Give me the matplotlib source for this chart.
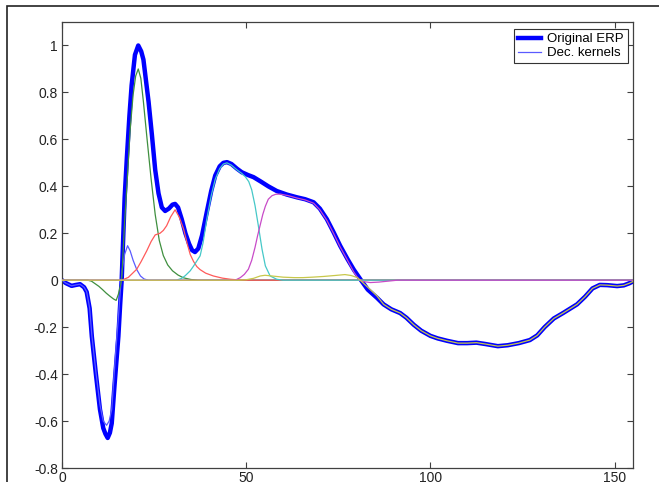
import matplotlib
matplotlib.use("Agg")
import matplotlib.pyplot as plt
from matplotlib.patches import Rectangle

plt.rcParams['font.family'] = ['Liberation Sans', 'DejaVu Sans']
plt.rcParams['axes.unicode_minus'] = False

# Original ERP (thick line)
erp_x = [0, 1, 2.6, 3.8, 4.9, 6, 6.7, 7.5, 8.1, 9.2, 10.3, 11.2, 11.8, 12.4, 13, 13.5,
         14.2, 14.7, 15.3, 15.8, 16.2, 17, 17.6, 18.3, 18.9, 19.8, 20.7, 21.5, 22.1,
         22.8, 23.5, 24.4, 25.3, 26.2, 27.1, 28, 29, 30, 30.7, 31.5, 32.5, 33.5, 34.5,
         35.3, 36.1, 37, 38, 39.3, 40.5, 41.6, 42.8, 43.8, 44.8, 46, 47.5, 48.8, 50.5,
         52, 54, 56, 58.3, 61, 63.8, 66, 68.3, 70, 71.9, 73.7, 75.5, 77.5, 79.2, 81,
         83, 85.5, 87.3, 89.4, 91.8, 93.5, 95.5, 97.5, 100, 102, 104.5, 107.5, 110,
         112.5, 115, 118.3, 121, 124, 127, 129, 131, 133.5, 136, 139.8, 142, 144,
         146, 148, 150.7, 152.5, 154, 155.3]
erp_y = [0, -0.012, -0.024, -0.02, -0.017, -0.03, -0.05, -0.12, -0.24, -0.40, -0.55,
         -0.63, -0.655, -0.672, -0.65, -0.61, -0.46, -0.36, -0.24, -0.1, 0, 0.35, 0.52,
         0.70, 0.83, 0.96, 1.0, 0.975, 0.94, 0.85, 0.76, 0.62, 0.47, 0.37, 0.31, 0.295,
         0.305, 0.322, 0.325, 0.31, 0.26, 0.2, 0.155, 0.128, 0.12, 0.135, 0.19, 0.29,
         0.38, 0.446, 0.485, 0.5, 0.503, 0.495, 0.475, 0.46, 0.448, 0.439, 0.42, 0.40,
         0.38, 0.365, 0.353, 0.345, 0.332, 0.305, 0.26, 0.205, 0.147, 0.09, 0.045,
         0.004, -0.04, -0.075, -0.103, -0.124, -0.14, -0.16, -0.19, -0.215, -0.237,
         -0.248, -0.258, -0.268, -0.268, -0.266, -0.272, -0.281, -0.277, -0.268,
         -0.255, -0.235, -0.2, -0.163, -0.14, -0.103, -0.07, -0.035, -0.02, -0.021,
         -0.025, -0.022, -0.013, -0.003]

# decomposition kernels
blue_x = [0, 1, 2.6, 3.8, 4.9, 6, 6.7, 7.5, 8.1, 9.2, 10.3, 11.2, 12.1, 12.8, 13.5, 14.2,
          14.7, 15.3, 15.8, 16.3, 17, 17.8, 18.5, 19.3, 20.3, 21.3, 22.3, 23.5, 155]
blue_y = [0, -0.012, -0.024, -0.02, -0.017, -0.03, -0.049, -0.118, -0.235, -0.39, -0.53,
          -0.6, -0.618, -0.6, -0.55, -0.39, -0.28, -0.16, -0.05, 0.04, 0.11, 0.147,
          0.125, 0.085, 0.045, 0.018, 0.005, 0, 0]

green_x = [0, 7, 8, 9, 10, 11, 12, 13, 14, 14.7, 15.3, 16.2, 17, 17.6, 18.5, 19.3, 20,
           20.7, 21.4, 22.1, 23.1, 24.2, 25.3, 26.4, 27.5, 28.7, 30, 31.5, 33, 35, 37, 155]
green_y = [0, 0, -0.004, -0.015, -0.026, -0.04, -0.055, -0.068, -0.08, -0.086, -0.06, 0,
           0.25, 0.4, 0.64, 0.79, 0.87, 0.9, 0.86, 0.76, 0.6, 0.43, 0.28, 0.17, 0.105,
           0.065, 0.04, 0.022, 0.01, 0.003, 0, 0]

red_x = [0, 16.2, 18, 20.3, 21.5, 23, 24.2, 25.3, 26.6, 27.5, 28.4, 29.5, 30.7, 31.8, 33,
         34, 34.8, 35.7, 36.6, 37.5, 39, 41.1, 43.5, 45.7, 48, 50, 155]
red_y = [0, 0, 0.012, 0.047, 0.08, 0.125, 0.165, 0.193, 0.2, 0.212, 0.232, 0.27, 0.30,
         0.27, 0.218, 0.155, 0.11, 0.08, 0.058, 0.045, 0.03, 0.018, 0.009, 0.004, 0.001,
         0, 0]

cyan_x = [0, 31, 32.5, 33.5, 34.8, 35.7, 36.6, 37.5, 38.3, 39.3, 40.5, 41.6, 42.8, 43.8,
          44.8, 46, 47.5, 48.8, 49.8, 50.7, 51.5, 52.4, 53.3, 54.3, 55.2, 56.5, 58.3, 60,
          155]
cyan_y = [0, 0, 0.008, 0.02, 0.04, 0.06, 0.082, 0.104, 0.16, 0.26, 0.36, 0.43, 0.475,
          0.495, 0.5, 0.49, 0.47, 0.455, 0.44, 0.42, 0.385, 0.318, 0.232, 0.132, 0.061,
          0.018, 0.004, 0, 0]

magenta_x = [0, 47, 48.4, 49.5, 50.6, 51.5, 52.4, 53.1, 53.8, 54.5, 55.2, 56, 57, 58,
             59.2, 61.5, 63.8, 66, 68.3, 70, 71.9, 73.7, 75.5, 77.5, 79.2, 80.5, 81.5,
             83.7, 86, 88.5, 91, 155]
magenta_y = [0, 0, 0.011, 0.025, 0.047, 0.085, 0.14, 0.19, 0.235, 0.28, 0.315, 0.345,
             0.36, 0.366, 0.367, 0.36, 0.35, 0.342, 0.328, 0.3, 0.255, 0.2, 0.142, 0.085,
             0.035, 0.005, -0.005, -0.01, -0.008, -0.004, 0, 0]

yellow_x = [0, 48, 50, 52, 53.8, 55.1, 57, 60, 63, 65.4, 68, 71, 74, 76.8, 78.5, 80.2,
            81.5, 83, 85.5, 87.3, 89.4, 91.8, 93.5, 95.5, 97.5, 100, 102, 104.5, 107.5,
            110, 112.5, 115, 118.3, 121, 124, 127, 129, 131, 133.5, 136, 139.8, 142,
            144, 146, 148, 150.7, 152.5, 154, 155.3]
yellow_y = [0, 0, 0.002, 0.008, 0.018, 0.021, 0.018, 0.013, 0.011, 0.011, 0.013, 0.016,
            0.02, 0.024, 0.02, 0.011, -0.008, -0.03, -0.067, -0.103, -0.124, -0.14,
            -0.16, -0.19, -0.215, -0.237, -0.248, -0.258, -0.268, -0.268, -0.266, -0.272,
            -0.281, -0.277, -0.268, -0.255, -0.235, -0.2, -0.163, -0.14, -0.103, -0.07,
            -0.035, -0.02, -0.021, -0.025, -0.022, -0.013, -0.003]

x_ticks = [0, 50, 100, 150]
x_labels = ['0', '50', '100', '150']
y_ticks = [-0.8, -0.6, -0.4, -0.2, 0, 0.2, 0.4, 0.6, 0.8, 1]
y_labels = ['-0.8', '-0.6', '-0.4', '-0.2', '0', '0.2', '0.4', '0.6', '0.8', '1']

W, H = 659, 482
fig = plt.figure(figsize=(W / 100, H / 100), dpi=100)
ax = fig.add_axes([62 / W, 14 / H, 571 / W, 446 / H])

# outer frame of the original figure (cropped)
fig.add_artist(Rectangle((7 / W, -0.1), 2, (H - 6) / H + 0.1, transform=fig.transFigure,
                         fill=False, ec='#222222', lw=1.2))

ax.plot(erp_x, erp_y, color='#0000ff', lw=3.2, label='Original ERP', zorder=2)
kernels = [
    (blue_x, blue_y, '#5a5aff'),
    (green_x, green_y, '#3f8f3f'),
    (red_x, red_y, '#ff5a5a'),
    (cyan_x, cyan_y, '#45c8c8'),
    (magenta_x, magenta_y, '#c84bc8'),
    (yellow_x, yellow_y, '#c8c84b'),
]
for i, (kx, ky, c) in enumerate(kernels):
    ax.plot(kx, ky, color=c, lw=0.9, zorder=3,
            label='Dec. kernels' if i == 0 else '_nolegend_')

ax.set_xlim(0, 155)
ax.set_ylim(-0.8, 1.1)
ax.set_xticks(x_ticks, labels=x_labels)
ax.set_yticks(y_ticks, labels=y_labels)
ax.tick_params(direction='in', top=True, right=True, length=4.5, width=0.8,
               color='#404040', labelsize=10, labelcolor='#222222')
ax.tick_params(axis='y', pad=3)
ax.tick_params(axis='x', pad=2.5)
for s in ax.spines.values():
    s.set_color('#404040')
    s.set_linewidth(0.9)

leg = ax.legend(loc='upper right', bbox_to_anchor=((628 - 62) / 571, (468 - 29) / 446),
                borderaxespad=0, fontsize=9.5, fancybox=False, framealpha=1,
                edgecolor='#333333', handlelength=1.7, handletextpad=0.5,
                labelspacing=0.15, borderpad=0.3)
leg.get_frame().set_linewidth(0.8)

fig.savefig('out.png', dpi=100)
